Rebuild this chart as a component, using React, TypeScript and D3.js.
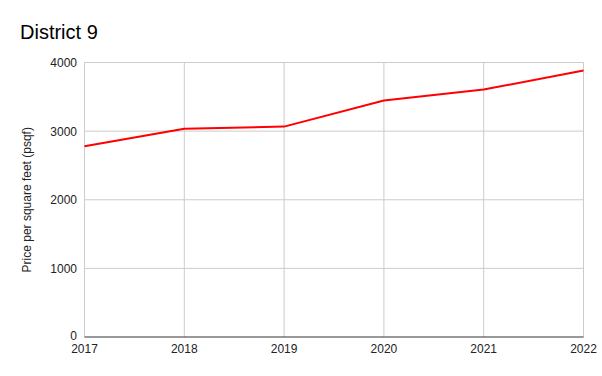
import React from "react";
import * as d3 from "d3";

const years = ["2017", "2018", "2019", "2020", "2021", "2022"];
const prices = [2780, 3036, 3066, 3445, 3605, 3882];
const yTicks = [0, 1000, 2000, 3000, 4000];

export default function App() {
  const W = 602, H = 376;
  const left = 84.5, right = 583.5, top = 62.5, bottom = 337;
  const x = d3.scalePoint<string>().domain(years).range([left, right]);
  const y = d3.scaleLinear().domain([0, 4000]).range([bottom, top]);
  const line = d3.line<number>()
    .x((_, i) => x(years[i]) as number)
    .y((d) => y(d));
  const font = "Arial, 'Liberation Sans', sans-serif";
  return (
    <svg width={W} height={H} style={{ position: "absolute", left: 0, top: 0, background: "#fff" }} fontFamily={font}>
      <rect width={W} height={H} fill="#fff" />
      <text x={20} y={39} fontSize={20} fill="#000">District 9</text>
      {yTicks.map((t) => (
        <g key={t}>
          {t > 0 && <line x1={left} x2={right} y1={y(t)} y2={y(t)} stroke="#cccccc" strokeWidth={1} />}
          <text x={77} y={y(t) + (t === 0 ? 2.5 : 4.5)} fontSize={12} textAnchor="end" fill="#222">{t}</text>
        </g>
      ))}
      {years.map((yr) => (
        <g key={yr}>
          <line x1={x(yr)} x2={x(yr)} y1={top} y2={bottom} stroke="#cccccc" strokeWidth={1} />
          <text x={x(yr)} y={bottom + 16} fontSize={12} textAnchor="middle" fill="#222">{yr}</text>
        </g>
      ))}
      <line x1={left} x2={right} y1={bottom} y2={bottom} stroke="#333" strokeWidth={1} />
      <path d={line(prices) || ""} fill="none" stroke="#ff0000" strokeWidth={2} strokeLinejoin="round" />
      <text transform={`translate(31,${(top + bottom) / 2}) rotate(-90)`} fontSize={12} textAnchor="middle" fill="#222">
        Price per square feet (psqf)
      </text>
    </svg>
  );
}
